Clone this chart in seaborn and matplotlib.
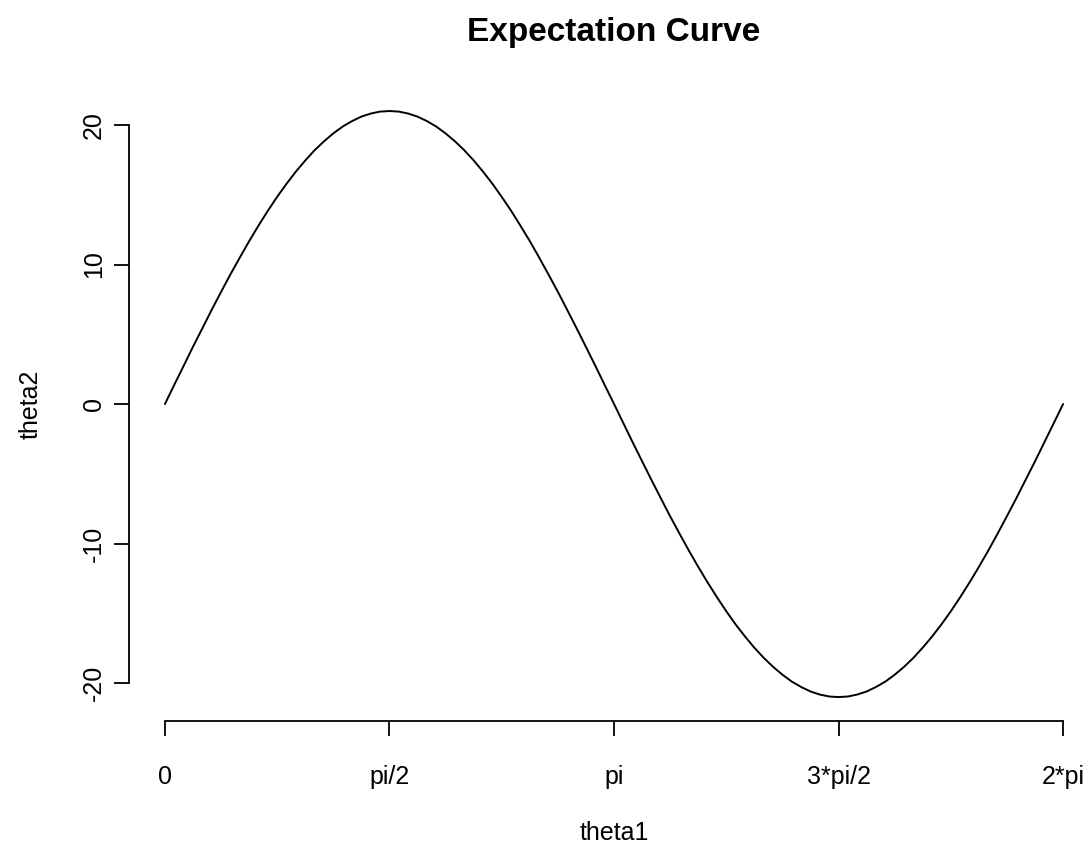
import numpy as np
import pandas as pd
import matplotlib
matplotlib.use("Agg")
import matplotlib.pyplot as plt
import seaborn as sns

# Data
theta1 = [0.000, 0.065, 0.131, 0.196, 0.262, 0.327, 0.393, 0.458, 0.524, 0.589,
          0.654, 0.720, 0.785, 0.851, 0.916, 0.982, 1.047, 1.113, 1.178, 1.244,
          1.309, 1.374, 1.440, 1.505, 1.571, 1.636, 1.702, 1.767, 1.833, 1.898,
          1.963, 2.029, 2.094, 2.160, 2.225, 2.291, 2.356, 2.422, 2.487, 2.553,
          2.618, 2.683, 2.749, 2.814, 2.880, 2.945, 3.011, 3.076, 3.142, 3.207,
          3.272, 3.338, 3.403, 3.469, 3.534, 3.600, 3.665, 3.731, 3.796, 3.862,
          3.927, 3.992, 4.058, 4.123, 4.189, 4.254, 4.320, 4.385, 4.451, 4.516,
          4.581, 4.647, 4.712, 4.778, 4.843, 4.909, 4.974, 5.040, 5.105, 5.171,
          5.236, 5.301, 5.367, 5.432, 5.498, 5.563, 5.629, 5.694, 5.760, 5.825,
          5.890, 5.956, 6.021, 6.087, 6.152, 6.218, 6.283]
theta2 = [0.0, 1.37, 2.74, 4.10, 5.43, 6.75, 8.04, 9.29, 10.5, 11.67,
          12.78, 13.85, 14.85, 15.79, 16.66, 17.46, 18.19, 18.83, 19.40, 19.89,
          20.28, 20.60, 20.82, 20.96, 21.0, 20.96, 20.82, 20.60, 20.28, 19.89,
          19.40, 18.83, 18.19, 17.46, 16.66, 15.79, 14.85, 13.85, 12.78, 11.67,
          10.5, 9.29, 8.04, 6.75, 5.43, 4.10, 2.74, 1.37, 0.0, -1.37,
          -2.74, -4.10, -5.43, -6.75, -8.04, -9.29, -10.5, -11.67, -12.78, -13.85,
          -14.85, -15.79, -16.66, -17.46, -18.19, -18.83, -19.40, -19.89, -20.28, -20.60,
          -20.82, -20.96, -21.0, -20.96, -20.82, -20.60, -20.28, -19.89, -19.40, -18.83,
          -18.19, -17.46, -16.66, -15.79, -14.85, -13.85, -12.78, -11.67, -10.5, -9.29,
          -8.04, -6.75, -5.43, -4.10, -2.74, -1.37, 0.0]
x_ticks = [0.0, 1.5708, 3.1416, 4.7124, 6.2832]
x_tick_labels = ["0", "pi/2", "pi", "3*pi/2", "2*pi"]
y_ticks = [-20, -10, 0, 10, 20]
y_tick_labels = ["-20", "-10", "0", "10", "20"]

sns.set_style("white")
plt.rcParams['font.family'] = ['Liberation Sans', 'DejaVu Sans']

W, H = 1092, 850
fig = plt.figure(figsize=(W / 100, H / 100), dpi=100)
left_px, right_px, top_px, bottom_px = 129, 1099, 87.6, 720.5
ax = fig.add_axes([left_px / W, 1 - bottom_px / H,
                   (right_px - left_px) / W, (bottom_px - top_px) / H])

df = pd.DataFrame({"theta1": theta1, "theta2": theta2})
sns.lineplot(data=df, x="theta1", y="theta2", color="black", lw=1.4,
             ax=ax, sort=False)

# R-style 4% axis extension
xmin, xmax = min(theta1), max(theta1)
ymin, ymax = min(theta2), max(theta2)
dx, dy = 0.04 * (xmax - xmin), 0.04 * (ymax - ymin)
ax.set_xlim(xmin - dx, xmax + dx)
ax.set_ylim(ymin - dy, ymax + dy)

for s in ["top", "right"]:
    ax.spines[s].set_visible(False)
for s in ["left", "bottom"]:
    ax.spines[s].set_color("black")
    ax.spines[s].set_linewidth(1.3)
ax.spines["left"].set_bounds(y_ticks[0], y_ticks[-1])
ax.spines["bottom"].set_bounds(x_ticks[0], x_ticks[-1])

ax.set_xticks(x_ticks)
ax.set_xticklabels(x_tick_labels)
ax.set_yticks(y_ticks)
ax.set_yticklabels(y_tick_labels, rotation=90, va="center")
ax.tick_params(axis="both", which="major", bottom=True, left=True,
               direction="out", length=10.8, width=1.3,
               color="black", labelsize=18, labelcolor="black")
ax.tick_params(axis="x", pad=21)
ax.tick_params(axis="y", pad=6)

ax.set_xlabel("theta1", fontsize=18, color="black")
ax.set_ylabel("theta2", fontsize=18, color="black")
ax.xaxis.set_label_coords(0.5, (bottom_px - 833) / (bottom_px - top_px))
ax.xaxis.label.set_va("center")
ax.yaxis.set_label_coords((31 - left_px) / (right_px - left_px), 0.5)
ax.yaxis.label.set_va("center")

fig.text((left_px + right_px) / 2 / W, 1 - 41 / H, "Expectation Curve",
         ha="center", va="baseline", fontsize=24, fontweight="bold",
         color="black")

fig.savefig("out.png", dpi=100, facecolor="white")
